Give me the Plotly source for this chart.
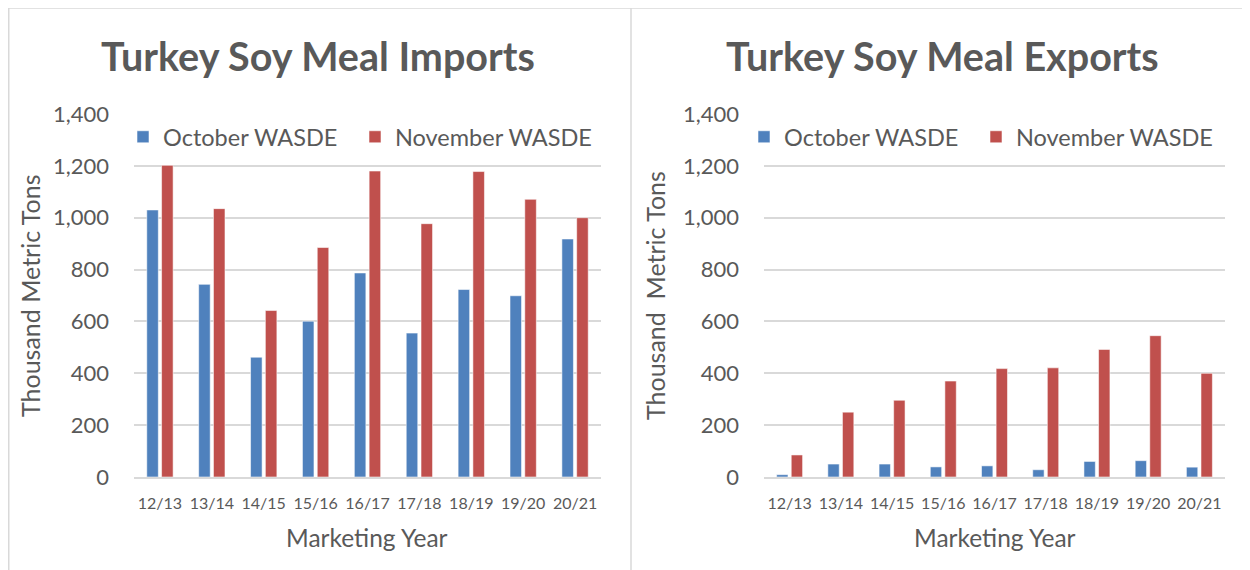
import plotly.graph_objects as go

years = ["12/13", "13/14", "14/15", "15/16", "16/17", "17/18", "18/19", "19/20", "20/21"]
imports_oct = [1030, 743, 462, 601, 787, 555, 723, 699, 918]
imports_nov = [1202, 1035, 642, 885, 1180, 977, 1178, 1071, 1000]
exports_oct = [9, 50, 50, 39, 43, 28, 60, 63, 38]
exports_nov = [85, 250, 296, 370, 418, 421, 492, 545, 400]
series_names = ["October WASDE", "November WASDE"]
titles = ["Turkey Soy Meal Imports", "Turkey Soy Meal Exports"]
y_titles = ["Thousand Metric Tons", "Thousand  Metric Tons"]
x_title = "Marketing Year"
y_ticks = [0, 200, 400, 600, 800, 1000, 1200, 1400]

# page is shown with the default 8px body margin
OFF = 8
W, H = 1250 - OFF, 570 - OFF
BLUE = "#4F81BD"
RED = "#C0504D"
TXT = "#595959"
GRID = "#D9D9D9"
FONT = "Lato"

def px(x):
    return max(0.0, (x - OFF) / W)

def py(y):
    return min(1.0, 1 - (y - OFF) / H)

fig = go.Figure()
edge = dict(color="rgba(255,255,255,0.55)", width=1)
fig.add_trace(go.Bar(x=years, y=imports_oct, name=series_names[0], marker=dict(color=BLUE, line=edge),
                     xaxis="x", yaxis="y", legend="legend", showlegend=True))
fig.add_trace(go.Bar(x=years, y=imports_nov, name=series_names[1], marker=dict(color=RED, line=edge),
                     xaxis="x", yaxis="y", legend="legend2", showlegend=True))
fig.add_trace(go.Bar(x=years, y=exports_oct, name=series_names[0], marker=dict(color=BLUE, line=edge),
                     xaxis="x2", yaxis="y2", legend="legend3", showlegend=True))
fig.add_trace(go.Bar(x=years, y=exports_nov, name=series_names[1], marker=dict(color=RED, line=edge),
                     xaxis="x2", yaxis="y2", legend="legend4", showlegend=True))

ydom = [py(477), py(114)]
xcommon = dict(showgrid=False, showline=True, linecolor=GRID, linewidth=1.5, ticks="",
               tickfont=dict(family=FONT, size=16, color=TXT), ticklabelstandoff=11, fixedrange=True,
               automargin=False)
ycommon = dict(range=[0, 1400], tickvals=y_ticks, tickformat=",", showgrid=True, gridcolor=GRID,
               gridwidth=1.5, zeroline=False, showline=False, ticks="",
               tickfont=dict(family=FONT, size=22, color=TXT), ticklabelstandoff=24, fixedrange=True,
               automargin=False)

legend_common = dict(orientation="h", yanchor="middle", y=py(137), xanchor="left",
                     font=dict(family=FONT, size=23.5, color=TXT), bgcolor="rgba(0,0,0,0)",
                     itemclick=False, itemdoubleclick=False, visible=True)

fig.update_layout(
    width=W, height=H, margin=dict(l=0, r=0, t=0, b=0, pad=0, autoexpand=False),
    paper_bgcolor="white", plot_bgcolor="white", showlegend=True,
    barmode="group", bargap=0.43, bargroupgap=0.22,
    font=dict(family=FONT, color=TXT),
    xaxis=dict(domain=[px(134), px(601)], anchor="y", **xcommon),
    yaxis=dict(domain=ydom, anchor="x", **ycommon),
    xaxis2=dict(domain=[px(764), px(1225)], anchor="y2", **xcommon),
    yaxis2=dict(domain=ydom, anchor="x2", **ycommon),
    legend=dict(x=px(123), **legend_common),
    legend2=dict(x=px(355), **legend_common),
    legend3=dict(x=px(744), **legend_common),
    legend4=dict(x=px(976), **legend_common),
)

annotations = []
for cx, t in zip([318, 942], titles):
    annotations.append(dict(text="<b>" + t + "</b>", x=px(cx), y=py(55), xref="paper", yref="paper",
                            showarrow=False, font=dict(family=FONT, size=39.5, color=TXT),
                            xanchor="center", yanchor="middle"))
for cx, t in zip([30, 655], y_titles):
    annotations.append(dict(text=t, x=px(cx), y=py(296), xref="paper", yref="paper", textangle=-90,
                            showarrow=False, font=dict(family=FONT, size=25, color=TXT),
                            xanchor="center", yanchor="middle"))
for cx in [366.5, 994.5]:
    annotations.append(dict(text=x_title, x=px(cx), y=py(537), xref="paper", yref="paper",
                            showarrow=False, font=dict(family=FONT, size=24.5, color=TXT),
                            xanchor="center", yanchor="middle"))
fig.update_layout(annotations=annotations)

line = dict(color=GRID, width=1.5)
fig.update_layout(shapes=[
    dict(type="line", xref="paper", yref="paper", x0=0, x1=1, y0=1, y1=1, line=line),
    dict(type="line", xref="paper", yref="paper", x0=0.0006, x1=0.0006, y0=1, y1=0, line=line),
    dict(type="line", xref="paper", yref="paper", x0=px(631), x1=px(631), y0=1, y1=0, line=line),
])

fig.write_html("out.html")
